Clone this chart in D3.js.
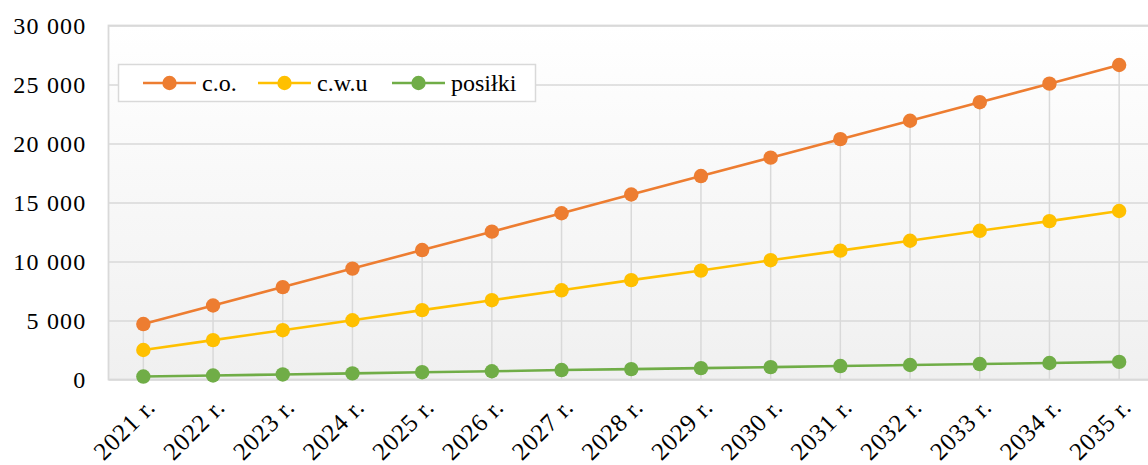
<!DOCTYPE html>
<html>
<head>
<meta charset="utf-8">
<script src="https://cdn.jsdelivr.net/npm/d3@7"></script>
<style>
  html, body { margin: 0; padding: 0; background: #fff; }
  svg { display: block; }
  text { font-family: "Liberation Serif", "Times New Roman", serif; fill: #000; }
</style>
</head>
<body>
<svg id="chart" width="1148" height="465"></svg>
<script>
// Years on the category axis
const years = ["2021 r.", "2022 r.", "2023 r.", "2024 r.", "2025 r.", "2026 r.", "2027 r.",
  "2028 r.", "2029 r.", "2030 r.", "2031 r.", "2032 r.", "2033 r.", "2034 r.", "2035 r."];

// Series values
const co = [4700, 6270, 7830, 9400, 10970, 12530, 14090, 15680, 17240, 18800, 20370, 21930, 23500, 25070, 26650];
const cwu = [2500, 3340, 4180, 5020, 5880, 6720, 7560, 8420, 9230, 10110, 10920, 11760, 12600, 13420, 14280];
const posilki = [250, 340, 430, 520, 620, 700, 800, 880, 960, 1050, 1140, 1230, 1310, 1400, 1490];

const seriesNames = ["c.o.", "c.w.u", "posiłki"];
const seriesColors = ["#ED7D31", "#FFC000", "#70AD47"];

// Value axis ticks
const yTicks = [0, 5000, 10000, 15000, 20000, 25000, 30000];

const series = [co, cwu, posilki].map((vals, i) => ({
  name: seriesNames[i], color: seriesColors[i], values: vals
}));

const svg = d3.select("#chart");
const plot = { left: 108.5, top: 25.5, right: 1154, bottom: 379.5 };

const x = d3.scalePoint().domain(years).range([plot.left, plot.right]).padding(0.5);
const y = d3.scaleLinear().domain([0, 30000]).range([plot.bottom, plot.top]);

const fmt = v => d3.format(",")(v).replace(/,/g, " ");

// Plot area background: white at top fading to light grey
const defs = svg.append("defs");
const grad = defs.append("linearGradient").attr("id", "bg")
  .attr("x1", 0).attr("y1", 0).attr("x2", 0).attr("y2", 1);
grad.append("stop").attr("offset", "0%").attr("stop-color", "#ffffff");
grad.append("stop").attr("offset", "100%").attr("stop-color", "#f0f0f0");

svg.append("rect")
  .attr("x", plot.left).attr("y", plot.top)
  .attr("width", plot.right - plot.left).attr("height", plot.bottom - plot.top)
  .attr("fill", "url(#bg)");

// Horizontal gridlines via the value axis
const yAxis = d3.axisLeft(y).tickValues(yTicks)
  .tickSize(-(plot.right - plot.left)).tickFormat(fmt).tickPadding(22);
const yg = svg.append("g").attr("transform", `translate(${plot.left},0)`).call(yAxis);
yg.select(".domain").remove();
yg.selectAll(".tick line").attr("stroke", "#d9d9d9").attr("stroke-width", 1.5);
yg.selectAll(".tick text")
  .attr("font-size", 24).attr("letter-spacing", 1.2)
  .attr("font-family", "Liberation Serif, serif").attr("fill", "#000");

// Drop lines from the highest point of each year down to the axis
const maxVals = years.map((_, i) => d3.max(series, s => s.values[i]));
svg.append("g").selectAll("line").data(years).join("line")
  .attr("x1", d => x(d)).attr("x2", d => x(d))
  .attr("y1", (d, i) => y(maxVals[i])).attr("y2", plot.bottom)
  .attr("stroke", "#d9d9d9").attr("stroke-width", 1.5);

// Plot border
svg.append("rect")
  .attr("x", plot.left).attr("y", plot.top)
  .attr("width", plot.right - plot.left).attr("height", plot.bottom - plot.top)
  .attr("fill", "none").attr("stroke", "#d9d9d9").attr("stroke-width", 1.8);

// Category labels, rotated
const xAxis = d3.axisBottom(x).tickSize(0).tickPadding(0);
const xg = svg.append("g").attr("transform", `translate(0,${plot.bottom})`).call(xAxis);
xg.select(".domain").remove();
xg.selectAll(".tick text")
  .attr("font-size", 25).attr("letter-spacing", 0.8)
  .attr("font-family", "Liberation Serif, serif").attr("fill", "#000")
  .attr("text-anchor", "end").attr("dy", 0).attr("y", 0)
  .attr("transform", "translate(13,29) rotate(-45)");

// Lines and markers
const line = d3.line().x((d, i) => x(years[i])).y(d => y(d));
const sg = svg.append("g").selectAll("g").data(series).join("g");
sg.append("path")
  .attr("d", d => line(d.values))
  .attr("fill", "none").attr("stroke", d => d.color).attr("stroke-width", 2.6);
sg.each(function (s) {
  d3.select(this).selectAll("circle").data(s.values).join("circle")
    .attr("cx", (d, i) => x(years[i])).attr("cy", d => y(d)).attr("r", 7.2)
    .attr("fill", s.color);
});

// Legend
const legend = svg.append("g");
legend.append("rect")
  .attr("x", 118.5).attr("y", 64.5).attr("width", 417).attr("height", 37)
  .attr("fill", "#fff").attr("stroke", "#d9d9d9").attr("stroke-width", 1.5);
const legendX = [143, 258, 392];
const le = legend.selectAll("g").data(series).join("g")
  .attr("transform", (d, i) => `translate(${legendX[i]},83)`);
le.append("line").attr("x1", 0).attr("x2", 53).attr("y1", 0).attr("y2", 0)
  .attr("stroke", d => d.color).attr("stroke-width", 2.6);
le.append("circle").attr("cx", 26.5).attr("cy", 0).attr("r", 7.2).attr("fill", d => d.color);
le.append("text").attr("x", 59).attr("y", 8)
  .attr("font-size", 24).text(d => d.name);
</script>
</body>
</html>
